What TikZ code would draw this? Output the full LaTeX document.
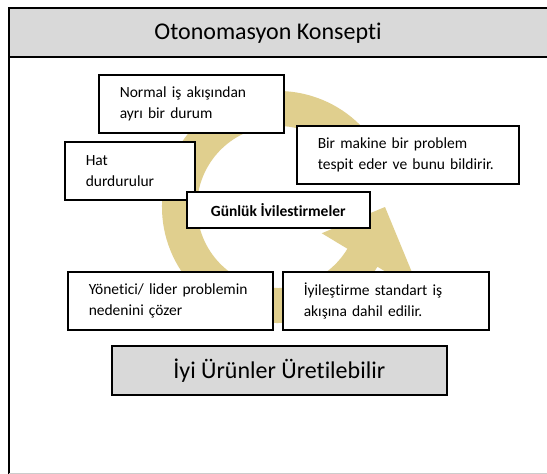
\documentclass[tikz,border=0pt]{standalone}
\usepackage{fontspec}
\setmainfont{Carlito}[Ligatures=CommonOff]
\usetikzlibrary{calc}
\definecolor{ringgold}{RGB}{224,207,142}
\definecolor{panelgray}{RGB}{217,217,217}
\begin{document}
\begin{tikzpicture}[x=1pt,y=-1pt,
  stepbox/.style={draw=black, line width=1.5pt, fill=white, rectangle,
    inner xsep=21pt, inner ysep=0pt, align=left, anchor=north west,
    font=\fontsize{15.5}{21}\selectfont},
  banner/.style={draw=black, line width=1.5pt, fill=panelgray, rectangle,
    inner sep=0pt, anchor=north west, font=\fontsize{24}{28}\selectfont}]
\useasboundingbox (0,0) rectangle (547,474);
\clip (0,0) rectangle (547,474);
\fill[white] (0,0) rectangle (547,474);

% outer frame and header strip
\draw[line width=1.6pt, fill=white] (9,8) rectangle (640,490);
\draw[line width=1pt, black!20] (9,473.5) -- (547,473.5);
\draw[line width=1.6pt, fill=panelgray] (9,8) rectangle (640,57);
\node[font=\fontsize{24}{28}\selectfont, anchor=base] (title) at (268,39.5) {Otonomasyon Konsepti};

% circular arrow behind the steps
\coordinate (C) at (278,207);
\fill[ringgold]
  ($(C)+(-25:116)$) arc[start angle=-25, end angle=-329, radius=116]
  -- ($(C)+(31:166)$) -- ($(C)+(0:107)$) -- ($(C)+(31:51)$)
  -- ($(C)+(31:81)$) arc[start angle=-329, end angle=-25, radius=81]
  -- cycle;

% steps of the cycle
\node[stepbox, minimum width=185, minimum height=58, text width=143] (normal) at (98,74)
  {Normal iş akışından\\ayrı bir durum};
\node[stepbox, minimum width=130, minimum height=58, text width=88] (hat) at (64,141)
  {Hat\\durdurulur};
\node[stepbox, minimum width=222, minimum height=58, text width=180] (makine) at (296,125)
  {Bir makine bir problem\\tespit eder ve bunu bildirir.};
\node[draw=black, line width=1.5pt, fill=white, rectangle, inner sep=0pt, anchor=north west,
  minimum width=183, minimum height=36, font=\fontsize{15.5}{21}\selectfont\bfseries] (gunluk) at (186,191)
  {Günlük İvilestirmeler};
\node[stepbox, minimum width=205, minimum height=58, text width=163] (yonetici) at (67,271)
  {Yönetici/ lider problemin\\nedenini çözer};
\node[stepbox, minimum width=206, minimum height=58, text width=164] (standart) at (282,271)
  {İyileştirme standart iş\\akışına dahil edilir.};

% result
\node[banner, minimum width=335, minimum height=49] (sonuc) at (111,345)
  {İyi Ürünler Üretilebilir};
\end{tikzpicture}
\end{document}
